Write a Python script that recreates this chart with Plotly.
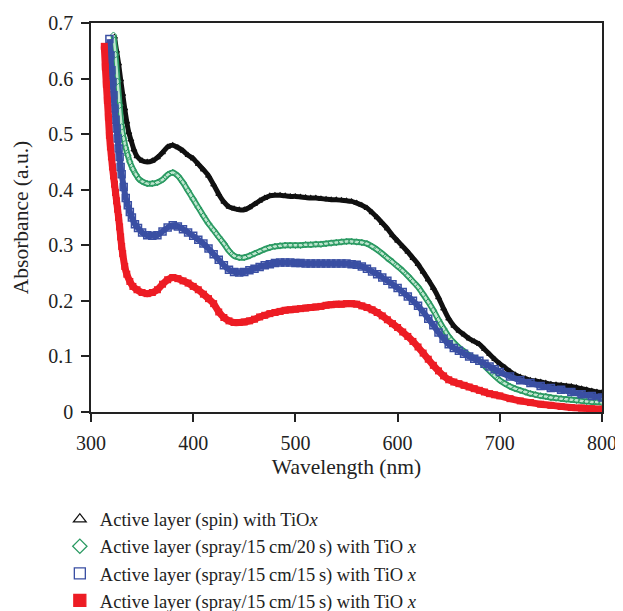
import plotly.graph_objects as go

# ---- data ----
wl_spin = [323, 325, 327, 329, 331, 333, 335, 337, 339, 342, 345, 350, 355, 360, 365, 370, 375, 380,
           385, 390, 395, 400, 405, 410, 415, 420, 425, 430, 435, 440, 445, 450, 455, 460, 465, 470,
           475, 480, 485, 490, 495, 500, 505, 510, 515, 520, 525, 530, 535, 540, 545, 550, 555, 560,
           565, 570, 575, 580, 585, 590, 595, 600, 605, 610, 615, 620, 625, 630, 635, 640, 645, 650,
           655, 660, 665, 670, 675, 680, 685, 690, 695, 700, 705, 710, 715, 720, 725, 730, 735, 740,
           745, 750, 755, 760, 765, 770, 775, 780, 785, 790, 795, 800]
abs_spin = [0.675, 0.650, 0.627, 0.598, 0.572, 0.546, 0.522, 0.503, 0.490, 0.472, 0.460, 0.452, 0.450,
            0.452, 0.458, 0.467, 0.477, 0.480, 0.476, 0.470, 0.462, 0.456, 0.446, 0.436, 0.425, 0.409,
            0.392, 0.378, 0.369, 0.366, 0.364, 0.364, 0.368, 0.374, 0.380, 0.385, 0.389, 0.390, 0.390,
            0.389, 0.388, 0.388, 0.387, 0.386, 0.385, 0.385, 0.384, 0.383, 0.382, 0.382, 0.381, 0.380,
            0.379, 0.376, 0.372, 0.367, 0.359, 0.350, 0.340, 0.330, 0.318, 0.308, 0.298, 0.288, 0.277,
            0.266, 0.252, 0.238, 0.223, 0.206, 0.186, 0.168, 0.155, 0.146, 0.139, 0.132, 0.127, 0.122,
            0.113, 0.104, 0.095, 0.087, 0.080, 0.073, 0.067, 0.063, 0.060, 0.057, 0.056, 0.054, 0.052,
            0.050, 0.049, 0.048, 0.047, 0.046, 0.044, 0.042, 0.040, 0.038, 0.036, 0.035]

wl_s20 = [322, 324, 326, 328, 330, 332, 334, 336, 338, 341, 344, 347, 350, 355, 360, 365, 370, 375,
          380, 385, 390, 395, 400, 405, 410, 415, 420, 425, 430, 435, 440, 445, 450, 455, 460, 465,
          470, 475, 480, 485, 490, 495, 500, 505, 510, 515, 520, 525, 530, 535, 540, 545, 550, 555,
          560, 565, 570, 575, 580, 585, 590, 595, 600, 605, 610, 615, 620, 625, 630, 635, 640, 645,
          650, 655, 660, 665, 670, 675, 680, 685, 690, 695, 700, 705, 710, 715, 720, 725, 730, 735,
          740, 745, 750, 755, 760, 765, 770, 775, 780, 785, 790, 795, 800]
abs_s20 = [0.678, 0.643, 0.595, 0.552, 0.513, 0.492, 0.475, 0.462, 0.450, 0.437, 0.427, 0.419, 0.415,
           0.411, 0.411, 0.413, 0.418, 0.427, 0.431, 0.425, 0.413, 0.398, 0.383, 0.368, 0.353, 0.339,
           0.327, 0.315, 0.303, 0.290, 0.281, 0.278, 0.278, 0.281, 0.285, 0.289, 0.293, 0.296, 0.298,
           0.299, 0.300, 0.300, 0.300, 0.300, 0.301, 0.301, 0.302, 0.302, 0.303, 0.304, 0.305, 0.306,
           0.307, 0.307, 0.306, 0.305, 0.303, 0.298, 0.292, 0.285, 0.277, 0.270, 0.262, 0.254, 0.245,
           0.235, 0.225, 0.212, 0.198, 0.183, 0.166, 0.150, 0.136, 0.125, 0.116, 0.109, 0.102, 0.097,
           0.092, 0.083, 0.074, 0.065, 0.057, 0.051, 0.046, 0.042, 0.039, 0.036, 0.033, 0.031, 0.029,
           0.028, 0.026, 0.025, 0.024, 0.023, 0.022, 0.021, 0.020, 0.019, 0.018, 0.018, 0.017]

wl_s15 = [318, 319, 320, 321, 322, 323, 324, 325, 326, 327, 328, 329, 330, 332, 334, 336, 338, 340,
          343, 346, 350, 355, 360, 365, 370, 375, 380, 385, 390, 395, 400, 405, 410, 415, 420, 425,
          430, 435, 440, 445, 450, 455, 460, 465, 470, 475, 480, 485, 490, 495, 500, 505, 510, 515,
          520, 525, 530, 535, 540, 545, 550, 555, 560, 565, 570, 575, 580, 585, 590, 595, 600, 605,
          610, 615, 620, 625, 630, 635, 640, 645, 650, 655, 660, 665, 670, 675, 680, 685, 690, 695,
          700, 710, 720, 730, 740, 750, 760, 770, 780, 790, 800]
abs_s15 = [0.671, 0.642, 0.615, 0.594, 0.570, 0.546, 0.526, 0.510, 0.492, 0.474, 0.459, 0.441, 0.428,
           0.405, 0.385, 0.372, 0.360, 0.350, 0.338, 0.331, 0.323, 0.318, 0.317, 0.318, 0.325, 0.332,
           0.336, 0.334, 0.329, 0.323, 0.317, 0.310, 0.303, 0.294, 0.284, 0.274, 0.264, 0.256, 0.252,
           0.251, 0.252, 0.255, 0.258, 0.261, 0.264, 0.266, 0.268, 0.269, 0.269, 0.269, 0.268, 0.268,
           0.267, 0.267, 0.267, 0.267, 0.267, 0.267, 0.267, 0.267, 0.267, 0.266, 0.265, 0.262, 0.258,
           0.253, 0.248, 0.242, 0.236, 0.230, 0.223, 0.216, 0.208, 0.200, 0.191, 0.180, 0.168, 0.156,
           0.143, 0.132, 0.122, 0.115, 0.110, 0.105, 0.100, 0.096, 0.092, 0.087, 0.082, 0.077, 0.072,
           0.064, 0.057, 0.052, 0.047, 0.043, 0.040, 0.036, 0.032, 0.029, 0.026]

wl_s15b = [313, 314, 315, 316, 317, 318, 319, 320, 321, 322, 323, 324, 325, 326, 327, 328, 329, 330,
           331, 333, 335, 338, 341, 345, 350, 355, 360, 365, 370, 375, 380, 385, 390, 395, 400, 405,
           410, 415, 420, 425, 430, 435, 440, 445, 450, 455, 460, 465, 470, 475, 480, 485, 490, 495,
           500, 505, 510, 515, 520, 525, 530, 535, 540, 545, 550, 555, 560, 565, 570, 575, 580, 585,
           590, 595, 600, 605, 610, 615, 620, 625, 630, 635, 640, 645, 650, 655, 660, 665, 670, 675,
           680, 685, 690, 695, 700, 710, 720, 730, 740, 750, 760, 770, 780, 790, 800]
abs_s15b = [0.658, 0.621, 0.590, 0.561, 0.531, 0.498, 0.477, 0.459, 0.441, 0.425, 0.410, 0.395, 0.380,
            0.365, 0.350, 0.333, 0.315, 0.298, 0.285, 0.262, 0.248, 0.235, 0.226, 0.220, 0.215, 0.213,
            0.215, 0.220, 0.230, 0.238, 0.242, 0.240, 0.236, 0.232, 0.226, 0.220, 0.212, 0.204, 0.195,
            0.180, 0.170, 0.164, 0.161, 0.161, 0.162, 0.164, 0.167, 0.171, 0.174, 0.177, 0.179, 0.181,
            0.183, 0.184, 0.185, 0.186, 0.187, 0.188, 0.189, 0.190, 0.192, 0.193, 0.194, 0.194, 0.195,
            0.195, 0.194, 0.191, 0.188, 0.184, 0.179, 0.173, 0.166, 0.159, 0.152, 0.144, 0.136, 0.127,
            0.117, 0.106, 0.095, 0.084, 0.074, 0.065, 0.058, 0.054, 0.051, 0.048, 0.045, 0.042, 0.039,
            0.036, 0.033, 0.031, 0.029, 0.024, 0.020, 0.017, 0.014, 0.012, 0.010, 0.008, 0.007, 0.006,
            0.005]

names = ["Active layer (spin) with TiO<i>x</i>",
         "Active layer (spray/15\u2009cm/20\u2009s) with TiO <i>x</i>",
         "Active layer (spray/15\u2009cm/15\u2009s) with TiO <i>x</i>",
         "Active layer (spray/15\u2009cm/15\u2009s) with TiO <i>x</i>"]

BLACK = "#111111"
GREEN = "#2a9a62"
GREEN_LIGHT = "#bfe6cf"
BLUE = "#3a4fa3"
RED = "#ed1c24"
FONT = "Liberation Serif"
TXT = "#222222"

fig = go.Figure()

# black: spin-coated
fig.add_trace(go.Scatter(
    x=wl_spin, y=abs_spin, mode="lines+markers", showlegend=False,
    line=dict(color=BLACK, width=5, shape="spline", smoothing=0.5),
    marker=dict(symbol="triangle-up-open", size=5, color=BLACK, line=dict(color=BLACK, width=1.2)),
))

# green: tube of open diamonds (dark rim, light core)
fig.add_trace(go.Scatter(
    x=wl_s20, y=abs_s20, mode="lines", showlegend=False,
    line=dict(color=GREEN, width=6, shape="spline", smoothing=0.5),
))
fig.add_trace(go.Scatter(
    x=wl_s20, y=abs_s20, mode="lines+markers", showlegend=False,
    line=dict(color=GREEN_LIGHT, width=2.5, shape="spline", smoothing=0.5),
    marker=dict(symbol="diamond-open", size=5, color=GREEN, line=dict(color=GREEN, width=1)),
))

# blue: open squares
fig.add_trace(go.Scatter(
    x=wl_s15, y=abs_s15, mode="lines+markers", showlegend=False,
    line=dict(color=BLUE, width=6, shape="spline", smoothing=0.5),
    marker=dict(symbol="square-open", size=7, color=BLUE, line=dict(color=BLUE, width=1.5)),
))

# red: filled squares
fig.add_trace(go.Scatter(
    x=wl_s15b, y=abs_s15b, mode="lines+markers", showlegend=False,
    line=dict(color=RED, width=7, shape="spline", smoothing=0.5),
    marker=dict(symbol="square", size=7, color=RED),
))

# legend entries (symbols only)
leg_style = [("triangle-up-open", 11, BLACK), ("diamond-open", 11, GREEN),
             ("square-open", 11, BLUE), ("square", 12, RED)]
for name, (sym, ms, col) in zip(names, leg_style):
    fig.add_trace(go.Scatter(
        x=[None], y=[None], mode="markers", name=name,
        marker=dict(symbol=sym, size=ms, color=col, line=dict(color=col, width=1.3)),
    ))

axis_common = dict(
    showgrid=False, zeroline=False, showline=True, linecolor=TXT, linewidth=1.5,
    mirror=True, ticks="outside", ticklen=8, tickcolor=TXT, tickwidth=1.5,
    tickfont=dict(family=FONT, size=20, color=TXT), automargin=False,
)

fig.update_xaxes(axis_common, range=[300, 800], dtick=100, tick0=300, ticklabelstandoff=4,
                 title=dict(text="Wavelength (nm)", font=dict(family=FONT, size=21.5, color=TXT), standoff=6))
fig.update_yaxes(axis_common, range=[0, 0.7], dtick=0.1, tick0=0, ticklabelstandoff=4,
                 title=dict(text="Absorbance (a.u.)", font=dict(family=FONT, size=21.5, color=TXT), standoff=14))

# the page body adds an 8 px offset, so the figure is 8 px smaller than the window
fig.update_layout(
    width=615, height=603,
    margin=dict(l=83, r=21, t=15, b=199, autoexpand=False),
    plot_bgcolor="white", paper_bgcolor="white",
    font=dict(family=FONT, size=20, color=TXT),
    showlegend=True,
    legend=dict(x=-0.061, y=-0.228, xanchor="left", yanchor="top",
                font=dict(family=FONT, size=18.5, color=TXT),
                bgcolor="rgba(0,0,0,0)", tracegroupgap=0, itemwidth=30),
)

fig.write_html("out.html")
